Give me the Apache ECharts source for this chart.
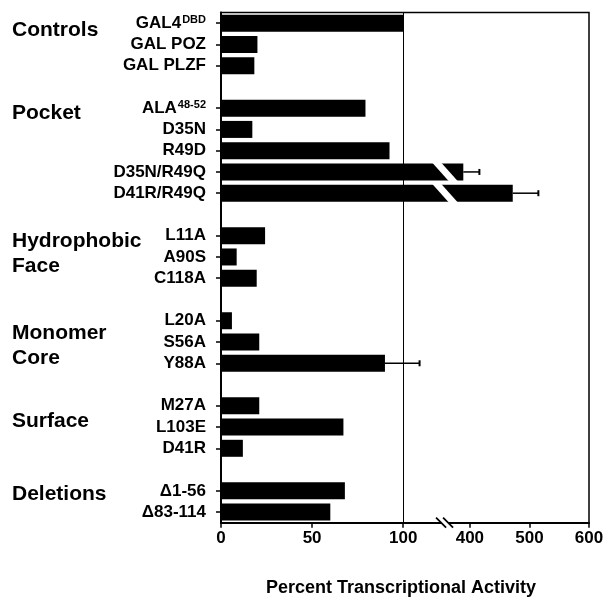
<!DOCTYPE html>
<html>
<head>
<meta charset="utf-8">
<script src="https://cdn.jsdelivr.net/npm/echarts@6/dist/echarts.min.js"></script>
<style>
  html, body { margin: 0; padding: 0; background: #fff; }
  #chart { width: 612px; height: 602px; }
</style>
</head>
<body>
<div id="chart"></div>
<script>
// ---------------- data ----------------
const categories = [
  'GAL4^DBD', 'GAL POZ', 'GAL PLZF', '_gap1',
  'ALA^48-52', 'D35N', 'R49D', 'D35N/R49Q', 'D41R/R49Q', '_gap2',
  'L11A', 'A90S', 'C118A', '_gap3',
  'L20A', 'S56A', 'Y88A', '_gap4',
  'M27A', 'L103E', 'D41R', '_gap5',
  'Δ1-56', 'Δ83-114'
];
const activity = [
  100, 20, 18.3, null,
  79.3, 17.2, 92.5, 389, 472, null,
  24.2, 8.6, 19.6, null,
  6, 21, 90, null,
  21, 67.2, 12, null,
  68, 60
];
// upper end of error bars (same units as activity); null = no error bar
const errorHigh = [
  null, null, null, null,
  null, null, null, 416, 515, null,
  null, null, null, null,
  null, null, 109, null,
  null, null, null, null,
  null, null
];
const tickValues = [0, 50, 100, 400, 500, 600];
const groupLabels = [
  { text: 'Controls', y: 30 },
  { text: 'Pocket', y: 113.5 },
  { text: 'Hydrophobic', y: 241 },
  { text: 'Face', y: 266.5 },
  { text: 'Monomer', y: 333.5 },
  { text: 'Core', y: 358.5 },
  { text: 'Surface', y: 421 },
  { text: 'Deletions', y: 494 }
];
const axisTitle = 'Percent Transcriptional Activity';

// ------------- broken-axis transform -------------
// 0..100 drawn linearly; above the break the scale is compressed.
const UPPER_BASE = 136.6;   // axis position of value 400
const UPPER_SCALE = 0.327;  // axis units per value unit above break
const BREAK_POS = 123;      // axis position of the break mark
function toAxis(v) {
  if (v == null) return null;
  return v <= 200 ? v : UPPER_BASE + (v - 400) * UPPER_SCALE;
}
function labelFor(pos) {
  for (const t of tickValues) {
    if (Math.abs(toAxis(t) - pos) < 0.3) return String(t);
  }
  return '';
}

const FONT = 'Liberation Sans, Arial, Helvetica, sans-serif';

const barData = activity.map(toAxis);
const errData = [];
activity.forEach((v, i) => {
  if (errorHigh[i] != null) errData.push([toAxis(errorHigh[i]), i, toAxis(v)]);
});
const breakBarData = [];
activity.forEach((v, i) => {
  if (v != null && v > 200) breakBarData.push([BREAK_POS, i]);
});

const chart = echarts.init(document.getElementById('chart'), null, { renderer: 'canvas' });

const option = {
  animation: false,
  backgroundColor: '#fff',
  textStyle: { fontFamily: FONT },
  grid: {
    left: 221, right: 23, top: 12.5, bottom: 79.3,
    show: true, borderColor: '#000', borderWidth: 1.5, backgroundColor: 'transparent'
  },
  xAxis: {
    type: 'value',
    min: 0,
    max: toAxis(600),
    splitLine: { show: false },
    axisLine: { show: true, lineStyle: { color: '#000', width: 2 } },
    axisTick: {
      show: true, length: 5, lineStyle: { color: '#000', width: 1.5 },
      customValues: tickValues.map(toAxis)
    },
    axisLabel: {
      show: true, margin: 7, color: '#000', fontSize: 17, fontWeight: 'bold', fontFamily: FONT,
      customValues: tickValues.map(toAxis),
      formatter: (val) => labelFor(val)
    },
    name: axisTitle,
    nameLocation: 'middle',
    nameGap: 56,
    nameTextStyle: { color: '#000', fontSize: 18, fontWeight: 'bold', fontFamily: FONT, padding: [0, 8, 0, 0] }
  },
  yAxis: {
    type: 'category',
    inverse: true,
    data: categories,
    axisLine: { show: true, lineStyle: { color: '#000', width: 2 } },
    axisTick: {
      show: true, alignWithLabel: true, length: 5,
      lineStyle: { color: '#000', width: 1.5 },
      interval: (i, v) => !String(v).startsWith('_gap')
    },
    axisLabel: {
      interval: 0, margin: 15, color: '#000', fontSize: 17, fontWeight: 'bold', fontFamily: FONT,
      formatter: (v) => {
        if (v.startsWith('_gap')) return '';
        if (v.indexOf('^') >= 0) {
          const [base, sup] = v.split('^');
          return '{b|' + base + '}{s|' + sup + '}';
        }
        return v;
      },
      rich: {
        b: { fontSize: 17, fontWeight: 'bold', fontFamily: FONT, color: '#000', lineHeight: 18, verticalAlign: 'bottom' },
        s: { fontSize: 11, fontWeight: 'bold', fontFamily: FONT, color: '#000', lineHeight: 11, verticalAlign: 'top', padding: [0, 0, 0, 1] }
      }
    }
  },
  graphic: groupLabels.map(g => ({
    type: 'text',
    left: 12,
    top: g.y - 10.5,
    style: {
      text: g.text, fill: '#000',
      font: 'bold 21px ' + FONT
    }
  })),
  series: [
    {
      type: 'bar',
      data: barData,
      barWidth: 17,
      itemStyle: { color: '#000' },
      z: 2,
      markLine: {
        silent: true, symbol: 'none', label: { show: false },
        lineStyle: { color: '#000', width: 1, type: 'solid' },
        data: [{ xAxis: 100 }],
        z: 1
      }
    },
    {
      type: 'custom',
      z: 3,
      data: errData,
      encode: { x: 0, y: 1 },
      renderItem: (params, api) => {
        const hi = api.coord([api.value(0), api.value(1)]);
        const lo = api.coord([api.value(2), api.value(1)]);
        const h = 6;
        return {
          type: 'group',
          children: [
            { type: 'line', shape: { x1: lo[0], y1: lo[1], x2: hi[0], y2: hi[1] },
              style: { stroke: '#000', lineWidth: 1.5 } },
            { type: 'line', shape: { x1: hi[0], y1: hi[1] - h / 2, x2: hi[0], y2: hi[1] + h / 2 },
              style: { stroke: '#000', lineWidth: 2 } }
          ]
        };
      }
    },
    {
      type: 'custom',
      z: 4,
      data: breakBarData,
      encode: { x: 0, y: 1 },
      renderItem: (params, api) => {
        const c = api.coord([api.value(0), api.value(1)]);
        const half = 9.5;
        const top = c[1] - half, bot = c[1] + half;
        return {
          type: 'polygon',
          shape: { points: [[c[0] - 13, top], [c[0] - 4, top], [c[0] + 13, bot], [c[0] + 4, bot]] },
          style: { fill: '#fff' }
        };
      }
    },
    {
      type: 'custom',
      z: 10,
      clip: false,
      data: [[BREAK_POS, categories.length - 1]],
      encode: { x: 0, y: 1 },
      renderItem: (params, api) => {
        const x = api.coord([api.value(0), api.value(1)])[0];
        const yb = params.coordSys.y + params.coordSys.height;
        return {
          type: 'group',
          children: [
            { type: 'polygon', shape: { points: [[x - 7, yb - 5], [x, yb - 5], [x + 7, yb + 5], [x, yb + 5]] },
              style: { fill: '#fff' } },
            { type: 'line', shape: { x1: x - 9, y1: yb - 5, x2: x + 1, y2: yb + 5 }, style: { stroke: '#000', lineWidth: 1.8 } },
            { type: 'line', shape: { x1: x - 2, y1: yb - 5, x2: x + 8, y2: yb + 5 }, style: { stroke: '#000', lineWidth: 1.8 } }
          ]
        };
      }
    }
  ]
};
chart.setOption(option);
</script>
</body>
</html>
